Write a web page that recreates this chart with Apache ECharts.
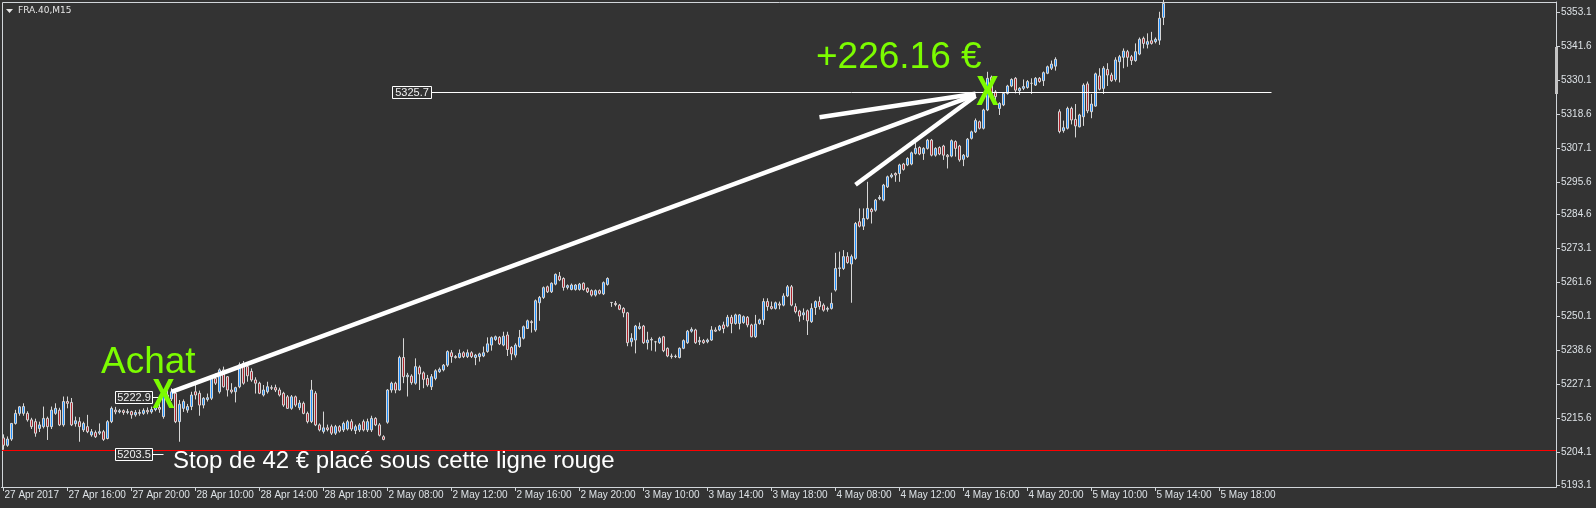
<!DOCTYPE html>
<html><head><meta charset="utf-8">
<script src="https://cdn.jsdelivr.net/npm/echarts@6/dist/echarts.min.js"></script>
<style>html,body{margin:0;padding:0;background:#333333;}#c{width:1596px;height:508px;}</style>
</head><body><div id="c"></div>
<script>
const symbolName = 'FRA.40,M15';
const tickLabels = ['27 Apr 2017','27 Apr 16:00','27 Apr 20:00','28 Apr 10:00','28 Apr 14:00','28 Apr 18:00',
  '2 May 08:00','2 May 12:00','2 May 16:00','2 May 20:00','3 May 10:00','3 May 14:00','3 May 18:00',
  '4 May 08:00','4 May 12:00','4 May 16:00','4 May 20:00','5 May 10:00','5 May 14:00','5 May 18:00'];
const barsPerTick = 16;
const slotCount = 388;
const priceTicks = [5193.1,5204.1,5215.6,5227.1,5238.6,5250.1,5261.6,5273.1,5284.6,5295.6,5307.1,5318.6,5330.1,5341.6,5353.1];
const priceMin = 5192.4, priceMax = 5356.4;
// [open, close, low, high] per 15-minute bar
const candles = [
[5209.0,5206.5,5205.0,5210.2],[5206.5,5208.6,5206.0,5209.5],[5208.6,5213.9,5208.0,5214.0],[5213.9,5217.3,5213.5,5218.5],
[5217.3,5219.5,5216.5,5219.8],[5217.3,5219.6,5216.5,5220.7],[5217.3,5215.1,5214.5,5218.0],[5215.1,5212.8,5212.0,5215.8],
[5214.5,5210.6,5209.4,5215.5],[5212.2,5213.4,5211.0,5214.5],[5212.8,5215.6,5212.2,5219.6],[5215.6,5212.8,5208.3,5216.2],
[5212.8,5218.4,5212.0,5219.6],[5217.3,5219.0,5216.8,5220.7],[5218.4,5213.4,5213.0,5219.2],[5213.4,5221.3,5212.8,5223.0],
[5221.3,5220.7,5219.0,5223.0],[5221.0,5213.4,5213.0,5222.5],[5213.8,5214.8,5212.8,5216.2],[5214.5,5212.8,5207.7,5216.0],
[5211.7,5213.9,5211.0,5214.5],[5212.8,5211.1,5210.6,5216.8],[5210.0,5211.1,5209.4,5212.0],[5210.8,5209.4,5209.0,5211.5],
[5210.6,5211.1,5210.0,5213.9],[5211.1,5208.5,5208.0,5211.7],[5208.8,5214.5,5208.5,5215.0],[5214.5,5219.0,5214.0,5219.6],
[5218.4,5217.8,5217.0,5219.5],[5217.8,5218.2,5217.3,5218.8],[5218.2,5217.6,5216.8,5218.6],[5217.6,5217.9,5217.0,5218.8],
[5217.9,5216.8,5215.5,5218.2],[5216.8,5217.6,5216.2,5218.4],[5217.6,5217.3,5216.5,5218.6],[5217.3,5218.3,5216.8,5219.0],
[5218.3,5217.8,5217.0,5219.3],[5217.8,5218.6,5217.2,5219.6],[5218.6,5219.5,5218.0,5220.5],[5219.3,5218.7,5217.5,5221.5],
[5216.2,5223.5,5215.5,5224.0],[5223.5,5222.2,5221.0,5225.2],[5222.2,5224.6,5221.5,5225.8],[5224.1,5214.5,5214.0,5224.8],
[5214.5,5220.4,5207.7,5221.8],[5219.0,5221.3,5217.8,5222.0],[5218.4,5219.6,5217.5,5220.5],[5219.6,5223.5,5218.4,5224.6],
[5224.6,5223.5,5222.0,5226.9],[5224.1,5220.1,5216.5,5225.0],[5220.1,5222.4,5219.0,5222.8],[5222.0,5222.6,5221.3,5224.0],
[5222.4,5229.1,5221.8,5229.5],[5229.1,5227.5,5226.9,5230.8],[5224.6,5232.0,5224.0,5232.5],[5232.0,5226.3,5226.0,5233.1],
[5229.7,5225.2,5223.0,5229.9],[5225.2,5224.6,5224.0,5227.5],[5224.6,5226.0,5221.0,5226.3],[5226.3,5233.7,5225.8,5234.5],
[5234.2,5227.5,5227.0,5235.0],[5233.1,5230.0,5228.0,5234.0],[5231.5,5228.6,5228.0,5232.5],[5228.6,5227.5,5224.0,5229.5],
[5227.5,5224.1,5223.8,5228.0],[5223.5,5225.2,5223.0,5226.9],[5224.6,5226.3,5224.0,5228.0],[5226.0,5225.8,5225.2,5226.8],
[5226.0,5225.2,5224.5,5227.0],[5225.2,5223.5,5223.0,5226.0],[5224.1,5220.1,5219.5,5224.6],[5222.9,5219.0,5218.8,5223.5],
[5219.0,5222.9,5218.5,5223.5],[5222.9,5220.1,5219.5,5223.3],[5219.2,5220.8,5218.4,5221.8],[5220.7,5217.3,5217.0,5221.3],
[5217.3,5214.5,5213.9,5217.9],[5214.5,5225.2,5214.0,5228.6],[5224.1,5213.4,5213.0,5224.8],[5213.4,5211.7,5211.2,5213.9],
[5211.2,5212.4,5210.5,5217.9],[5212.4,5211.8,5211.2,5213.5],[5212.8,5210.6,5210.0,5213.5],[5210.6,5212.8,5210.0,5213.4],
[5212.8,5211.3,5210.8,5213.3],[5211.7,5213.9,5211.0,5214.5],[5212.0,5214.5,5211.5,5215.1],[5214.5,5212.0,5211.3,5215.3],
[5211.5,5212.8,5210.3,5213.5],[5211.7,5213.4,5211.0,5214.0],[5214.5,5211.7,5211.2,5215.2],[5211.7,5214.5,5211.0,5215.5],
[5211.7,5215.6,5211.0,5216.5],[5215.6,5213.4,5213.0,5216.0],[5213.4,5209.9,5209.5,5214.0],[5209.4,5208.5,5208.2,5209.9],
[5214.3,5225.2,5213.8,5225.5],[5225.2,5227.5,5224.3,5228.0],[5227.5,5225.2,5224.1,5228.0],[5225.2,5236.2,5225.0,5236.8],
[5236.2,5229.7,5227.5,5242.7],[5229.7,5230.2,5223.0,5231.0],[5229.9,5227.7,5227.0,5230.5],[5227.5,5233.1,5227.0,5235.9],
[5232.9,5230.6,5225.2,5233.5],[5231.0,5228.8,5225.8,5231.5],[5229.1,5226.9,5226.3,5230.3],[5226.3,5229.7,5225.2,5230.6],
[5229.1,5231.7,5228.5,5232.2],[5231.4,5232.2,5231.0,5232.8],[5232.0,5233.6,5231.5,5234.0],[5233.6,5238.2,5233.0,5238.6],
[5237.8,5236.5,5234.4,5238.7],[5236.5,5236.2,5235.8,5237.0],[5236.2,5237.6,5235.9,5238.9],[5237.8,5236.5,5236.0,5238.3],
[5236.5,5237.8,5236.0,5238.9],[5237.8,5236.5,5236.0,5238.3],[5236.2,5237.0,5233.6,5237.4],[5236.5,5237.4,5234.8,5237.8],
[5236.7,5237.8,5236.3,5239.9],[5238.2,5240.8,5237.8,5243.0],[5240.4,5242.9,5238.5,5243.3],[5242.3,5243.2,5241.8,5243.6],
[5243.0,5240.8,5240.4,5243.4],[5240.4,5243.4,5240.0,5244.9],[5243.8,5238.9,5236.7,5244.9],[5239.6,5237.4,5235.3,5240.0],
[5237.0,5240.4,5236.2,5241.0],[5239.9,5243.0,5239.5,5245.5],[5242.7,5246.6,5242.3,5247.0],[5246.0,5248.6,5245.8,5249.0],
[5248.3,5248.0,5244.6,5248.8],[5245.5,5255.4,5244.9,5255.8],[5254.7,5256.5,5248.6,5257.0],[5256.5,5259.8,5256.0,5260.2],
[5260.1,5258.4,5258.0,5260.5],[5258.4,5261.3,5258.0,5261.6],[5261.0,5264.3,5260.6,5264.6],[5263.7,5262.4,5262.0,5265.1],
[5262.9,5259.9,5258.8,5263.3],[5259.9,5260.5,5259.2,5260.9],[5259.2,5260.7,5258.9,5261.2],[5259.2,5260.7,5258.8,5261.0],
[5259.2,5261.0,5258.8,5261.4],[5261.3,5259.2,5258.8,5261.6],[5259.6,5258.4,5258.0,5259.9],[5258.8,5257.3,5256.8,5259.2],
[5257.3,5258.8,5256.8,5259.2],[5258.8,5257.9,5257.5,5259.2],[5257.7,5261.5,5257.3,5261.9],[5260.9,5262.9,5260.5,5263.3],
[5254.8,5254.8,5253.3,5254.8],[5254.5,5254.1,5253.5,5255.3],[5253.9,5252.5,5252.2,5254.3],[5252.8,5251.3,5249.8,5253.2],
[5251.3,5241.2,5240.0,5251.6],[5241.5,5242.7,5239.9,5244.4],[5242.1,5246.8,5237.6,5247.2],[5246.0,5246.6,5245.6,5248.0],
[5246.8,5241.2,5240.8,5247.2],[5241.2,5242.1,5238.9,5244.9],[5242.1,5242.3,5238.5,5243.0],[5241.5,5241.5,5238.2,5241.8],
[5241.2,5242.7,5240.8,5243.2],[5243.2,5238.5,5238.0,5243.5],[5239.3,5236.7,5236.3,5239.6],[5236.7,5236.5,5235.8,5237.5],
[5236.5,5236.6,5236.0,5237.2],[5236.2,5239.3,5235.9,5239.6],[5239.3,5241.9,5239.0,5242.3],[5241.2,5245.1,5240.8,5245.5],
[5245.1,5245.7,5244.6,5246.4],[5245.5,5241.2,5240.8,5245.9],[5241.5,5241.9,5240.4,5243.2],[5241.9,5241.2,5240.8,5242.4],
[5241.5,5242.1,5241.0,5242.6],[5242.1,5245.5,5241.8,5246.8],[5245.5,5245.1,5244.8,5246.4],[5245.5,5246.8,5245.1,5247.2],
[5247.2,5246.0,5244.4,5248.3],[5246.8,5249.8,5246.4,5250.6],[5249.8,5247.7,5244.4,5250.6],[5247.7,5250.6,5247.3,5251.0],
[5247.7,5250.6,5245.7,5250.9],[5248.0,5250.0,5247.6,5250.4],[5249.8,5247.2,5246.4,5250.2],[5247.2,5243.2,5243.0,5247.6],
[5243.2,5247.5,5242.8,5250.6],[5247.7,5248.9,5247.3,5249.3],[5248.9,5255.1,5247.2,5256.2],[5255.1,5253.4,5252.0,5256.2],
[5253.4,5252.8,5252.4,5255.1],[5252.8,5254.7,5252.4,5255.1],[5254.3,5253.9,5252.5,5255.1],[5253.9,5257.0,5253.5,5257.9],
[5257.0,5260.1,5256.6,5260.7],[5260.1,5253.9,5253.5,5260.7],[5253.4,5251.7,5251.1,5254.5],[5251.9,5250.2,5248.3,5252.3],
[5250.6,5251.3,5248.9,5252.8],[5252.0,5248.6,5243.8,5252.4],[5248.3,5252.8,5247.9,5254.5],[5253.1,5255.1,5250.6,5255.5],
[5255.1,5253.4,5252.4,5256.8],[5253.9,5252.2,5251.7,5254.5],[5252.5,5252.8,5251.7,5253.4],[5252.8,5254.5,5252.4,5258.1],
[5259.0,5266.3,5258.5,5271.6],[5266.3,5266.5,5263.5,5272.0],[5266.3,5270.3,5265.8,5272.5],[5270.3,5268.3,5267.9,5271.8],
[5267.8,5270.3,5254.7,5271.0],[5269.7,5281.5,5269.2,5282.0],[5282.1,5280.6,5280.2,5286.6],[5280.6,5283.2,5279.3,5286.6],
[5283.2,5286.6,5282.8,5295.6],[5286.3,5285.5,5281.5,5286.8],[5286.0,5289.4,5285.5,5289.8],[5289.9,5290.3,5289.4,5291.1],
[5289.4,5294.5,5289.0,5294.9],[5293.9,5297.3,5293.5,5297.7],[5297.3,5297.9,5296.8,5298.5],[5298.4,5297.9,5295.6,5298.8],
[5298.4,5301.3,5295.6,5301.7],[5301.6,5299.8,5299.4,5302.0],[5301.3,5303.5,5300.9,5303.9],[5301.6,5305.4,5301.2,5305.8],
[5305.2,5306.9,5304.8,5310.3],[5307.2,5305.0,5304.6,5307.6],[5305.2,5306.9,5303.0,5307.3],[5306.9,5309.7,5306.5,5310.1],
[5309.7,5304.6,5304.2,5310.1],[5304.6,5306.9,5304.1,5307.3],[5307.2,5305.0,5304.6,5307.6],[5307.7,5304.6,5303.0,5308.1],
[5304.6,5304.1,5300.1,5305.0],[5304.3,5309.5,5303.9,5309.9],[5309.2,5306.9,5304.1,5309.6],[5307.7,5303.0,5302.4,5308.1],
[5303.2,5304.6,5300.9,5305.0],[5304.1,5310.0,5303.7,5310.4],[5310.3,5312.5,5309.9,5312.9],[5312.5,5316.3,5312.1,5317.0],
[5315.9,5313.7,5313.3,5316.3],[5313.7,5319.9,5313.3,5320.3],[5319.9,5330.6,5319.5,5332.8],[5331.0,5325.5,5324.5,5331.5],
[5326.0,5324.4,5321.8,5326.6],[5320.4,5322.1,5318.2,5322.5],[5321.6,5325.5,5321.2,5325.9],[5325.5,5328.0,5325.1,5328.4],
[5328.0,5330.2,5327.6,5330.6],[5330.6,5326.6,5325.5,5331.0],[5326.4,5327.2,5325.0,5327.6],[5327.2,5327.8,5326.6,5330.2],
[5327.5,5329.5,5327.1,5330.0],[5328.9,5328.9,5325.3,5330.6],[5328.3,5330.6,5328.0,5331.0],[5330.6,5329.5,5329.1,5331.0],
[5329.8,5332.5,5328.0,5332.9],[5332.3,5334.5,5332.0,5334.9],[5334.0,5335.4,5333.4,5336.6],[5334.7,5337.0,5333.2,5337.7],
[5319.3,5312.6,5312.0,5320.1],[5312.9,5313.9,5312.2,5316.3],[5313.7,5320.4,5313.3,5321.0],[5320.4,5316.5,5315.0,5321.0],
[5316.7,5314.5,5310.6,5321.9],[5314.2,5318.2,5314.0,5318.6],[5317.6,5328.3,5314.5,5328.9],[5328.7,5319.6,5318.8,5329.5],
[5319.3,5321.9,5317.1,5325.3],[5321.2,5332.1,5321.0,5332.5],[5331.4,5326.9,5326.5,5334.0],[5327.2,5334.0,5325.3,5334.7],
[5333.6,5331.7,5328.0,5335.7],[5331.7,5329.8,5329.4,5332.5],[5330.2,5336.8,5329.5,5337.7],[5336.2,5337.9,5329.2,5338.5],
[5337.7,5339.8,5334.0,5340.7],[5339.6,5337.7,5334.5,5340.2],[5337.9,5336.6,5335.1,5338.5],[5336.6,5339.6,5336.2,5342.4],
[5338.8,5343.8,5338.4,5344.4],[5344.1,5342.4,5340.7,5344.7],[5342.1,5343.0,5340.7,5345.8],[5343.3,5342.4,5342.0,5346.3],
[5343.0,5343.8,5342.4,5344.4],[5343.5,5350.9,5341.9,5353.1],[5351.2,5355.9,5348.6,5357.1]
];
// annotations (bar index, price)
const buyPoint = [39.95, 5222.9];
const sellPoint = [245.8, 5325.5];
const arrowLines = [
  [[42.05, 5224.6], [242.6, 5325.0]],
  [[203.6, 5317.4], [242.6, 5325.4]],
  [[212.9, 5294.6], [242.6, 5324.6]]
];
const stopLinePrice = 5204.9;
// [label, price, box start bar, box end bar, line end bar]
const levelBoxes = [
  ['5325.7', 5325.9, 97.1, 106.9, 317.4],
  ['5222.9', 5222.9, 28.45, 37.45, 39.1],
  ['5203.5', 5203.5, 28.45, 37.45, 40.1]
];
const buyText = 'Achat';
const gainText = '+226.16 €';
const stopText = 'Stop de 42 € placé sous cette ligne rouge';

const categories = Array.from({length: slotCount}, (_, i) => String(i));
const isTick = (i) => i % barsPerTick === 0 && i / barsPerTick < tickLabels.length;
const axisColor = '#d2d6da';
const labelColor = '#dde2e6';

const chart = echarts.init(document.getElementById('c'), null, {renderer: 'canvas'});
chart.setOption({
  backgroundColor: '#333333',
  animation: false,
  grid: {left: 1.5, width: slotCount * 4, top: 2, bottom: 21},
  xAxis: {
    type: 'category', data: categories, boundaryGap: true,
    axisLine: {show: true, lineStyle: {color: axisColor}},
    axisTick: {show: true, alignWithLabel: true, interval: (i) => isTick(i), length: 4, lineStyle: {color: axisColor}},
    axisLabel: {interval: (i) => isTick(i), formatter: (v, i) => tickLabels[i / barsPerTick] || '',
      align: 'left', margin: 3, padding: [0, 0, 0, 1], color: labelColor, fontSize: 10, fontFamily: 'Liberation Sans'},
    splitLine: {show: false}
  },
  yAxis: {
    type: 'value', position: 'right', offset: 2.5, min: priceMin, max: priceMax,
    axisLine: {show: true, lineStyle: {color: axisColor}},
    axisTick: {show: true, customValues: priceTicks, length: 4, lineStyle: {color: axisColor}},
    axisLabel: {customValues: priceTicks, formatter: (v) => v.toFixed(1), margin: 5,
      color: labelColor, fontSize: 10, fontFamily: 'Liberation Sans'},
    splitLine: {show: false}
  },
  series: [{
    type: 'candlestick', data: candles, barWidth: 2, clip: true,
    itemStyle: {color: '#1e8fff', color0: '#b0232c', borderColor: '#d6d6d6', borderColor0: '#d6d6d6',
      borderColorDoji: '#d6d6d6', borderWidth: 1}
  }]
});

const px = (i, p) => chart.convertToPixel({gridIndex: 0}, [i, p]);
const g = [];
g.push({type: 'rect', shape: {x: 2.5, y: 2.5, width: 1554, height: 485}, style: {fill: 'none', stroke: axisColor, lineWidth: 1}, z: 1});
g.push({type: 'polygon', shape: {points: [[6, 9], [13, 9], [9.5, 13]]}, style: {fill: '#e6e6e6'}, z: 10});
g.push({type: 'text', x: 18, y: 11, style: {text: symbolName, font: '9px "DejaVu Sans"', fill: '#e6e6e6', verticalAlign: 'middle'}, z: 10});
g.push({type: 'rect', shape: {x: 1555, y: 47, width: 3, height: 47}, style: {fill: '#c4c4c4'}, z: 10});
const ry = Math.round(px(0, stopLinePrice)[1]) + 0.5;
g.push({type: 'line', shape: {x1: 2, y1: ry, x2: 1556, y2: ry}, style: {stroke: '#ff0000', lineWidth: 1}, z: 5});
levelBoxes.forEach(([lab, price, b0, b1, b2]) => {
  const y = Math.round(px(0, price)[1]) + 0.5;
  const x0 = Math.round(px(b0, price)[0]) + 0.5, x1 = Math.round(px(b1, price)[0]) + 0.5, x2 = px(b2, price)[0];
  g.push({type: 'line', shape: {x1: x1, y1: y, x2: x2, y2: y}, style: {stroke: '#ffffff', lineWidth: 1}, z: 6});
  g.push({type: 'rect', shape: {x: x0, y: y - 6, width: x1 - x0, height: 12}, style: {fill: '#333333', stroke: '#ffffff', lineWidth: 1}, z: 7});
  g.push({type: 'text', x: (x0 + x1) / 2, y: y, style: {text: lab, font: '11px "Liberation Sans"', fill: '#eeeeee', align: 'center', verticalAlign: 'middle'}, z: 8});
});
arrowLines.forEach(([a, b]) => {
  const p1 = px(a[0], a[1]), p2 = px(b[0], b[1]);
  g.push({type: 'line', shape: {x1: p1[0], y1: p1[1], x2: p2[0], y2: p2[1]}, style: {stroke: '#ffffff', lineWidth: 4.5}, z: 9});
});
[buyPoint, sellPoint].forEach(([i, p]) => {
  const q = px(i, p);
  g.push({type: 'text', x: q[0], y: q[1], scaleX: 0.8, style: {text: 'X', font: 'bold 42px "Liberation Sans"', fill: '#7cfc00', align: 'center', verticalAlign: 'middle'}, z: 11});
});
g.push({type: 'text', x: 101, y: 363, style: {text: buyText, font: '37px "Liberation Sans"', fill: '#7cfc00', verticalAlign: 'middle'}, z: 11});
g.push({type: 'text', x: 816, y: 58, style: {text: gainText, font: '37px "Liberation Sans"', fill: '#7cfc00', verticalAlign: 'middle'}, z: 11});
g.push({type: 'text', x: 173, y: 461, style: {text: stopText, font: '24px "Liberation Sans"', fill: '#ffffff', verticalAlign: 'middle'}, z: 11});
chart.setOption({graphic: g});
</script></body></html>
